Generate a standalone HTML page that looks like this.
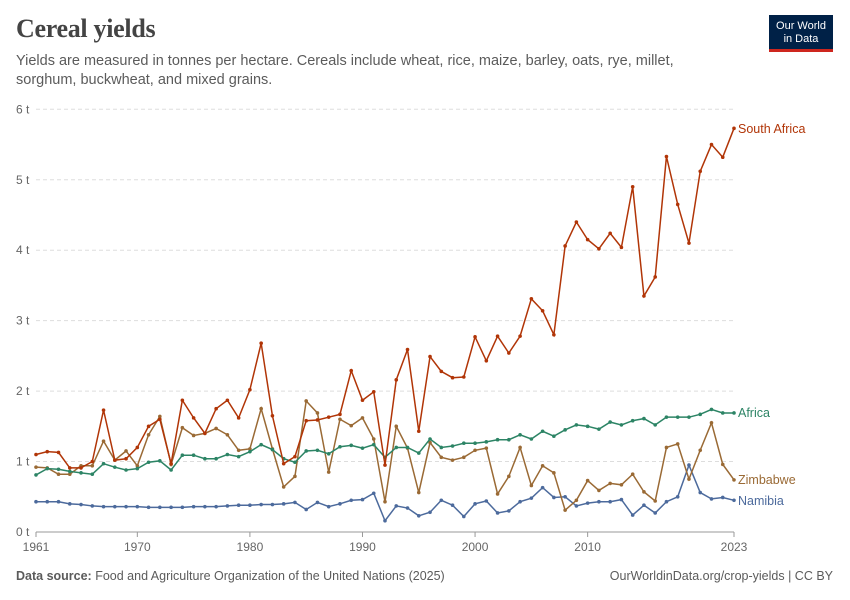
<!DOCTYPE html>
<html><head><meta charset="utf-8"><style>
body{margin:0;background:#fff;font-family:"Liberation Sans",sans-serif;}
#wrap{position:relative;width:850px;height:600px;overflow:hidden;}
h1{position:absolute;left:16px;top:14px;margin:0;font-family:"Liberation Serif",serif;font-size:26px;font-weight:bold;color:#444;letter-spacing:-0.3px}
.sub{position:absolute;left:16px;top:52px;width:700px;font-size:14.5px;line-height:19px;color:#5b5b5b}
.logo{position:absolute;left:769px;top:15px;width:64px;height:37px;background:#002147;color:#fff;font-size:11px;line-height:13px;text-align:center;padding-top:5px;box-sizing:border-box;border-bottom:3px solid #ce261e}
.foot{position:absolute;top:569px;font-size:12.5px;color:#5b5b5b}
</style></head><body><div id="wrap">
<h1>Cereal yields</h1>
<div class="sub">Yields are measured in tonnes per hectare. Cereals include wheat, rice, maize, barley, oats, rye, millet, sorghum, buckwheat, and mixed grains.</div>
<div class="logo">Our World<br>in Data</div>
<div class="foot" style="left:16px"><b>Data source:</b> Food and Agriculture Organization of the United Nations (2025)</div>
<div class="foot" style="right:17px">OurWorldinData.org/crop-yields | CC BY</div>
<svg id="chart" width="850" height="600" style="position:absolute;left:0;top:0"></svg>
</div>
<script>
const years=[];for(let y=1961;y<=2023;y++)years.push(y);
const southAfrica=[1.10,1.14,1.13,0.91,0.91,1.00,1.73,1.02,1.04,1.20,1.50,1.60,0.97,1.87,1.62,1.40,1.75,1.87,1.62,2.02,2.68,1.65,0.97,1.07,1.58,1.59,1.63,1.67,2.29,1.87,1.99,0.95,2.16,2.59,1.43,2.49,2.28,2.19,2.20,2.77,2.43,2.78,2.54,2.78,3.31,3.14,2.80,4.06,4.40,4.15,4.02,4.24,4.04,4.90,3.35,3.62,5.33,4.65,4.10,5.12,5.50,5.32,5.73];
const africa=[0.81,0.90,0.89,0.86,0.84,0.82,0.97,0.92,0.88,0.90,0.99,1.01,0.88,1.09,1.09,1.04,1.04,1.10,1.07,1.14,1.24,1.17,1.04,0.99,1.15,1.16,1.11,1.21,1.23,1.19,1.24,1.06,1.20,1.20,1.12,1.32,1.20,1.22,1.26,1.26,1.28,1.31,1.31,1.38,1.32,1.43,1.36,1.45,1.52,1.50,1.46,1.56,1.52,1.58,1.61,1.52,1.63,1.63,1.63,1.67,1.74,1.69,1.69];
const zimbabwe=[0.92,0.91,0.82,0.82,0.94,0.94,1.29,1.02,1.15,0.94,1.38,1.64,0.96,1.48,1.37,1.40,1.47,1.38,1.16,1.18,1.75,1.18,0.64,0.79,1.86,1.69,0.85,1.60,1.51,1.62,1.32,0.43,1.50,1.19,0.56,1.27,1.06,1.02,1.06,1.16,1.19,0.54,0.79,1.20,0.66,0.94,0.84,0.31,0.45,0.73,0.59,0.69,0.67,0.82,0.57,0.44,1.20,1.25,0.75,1.16,1.55,0.96,0.74];
const namibia=[0.43,0.43,0.43,0.40,0.39,0.37,0.36,0.36,0.36,0.36,0.35,0.35,0.35,0.35,0.36,0.36,0.36,0.37,0.38,0.38,0.39,0.39,0.40,0.42,0.32,0.42,0.36,0.40,0.45,0.46,0.55,0.16,0.37,0.34,0.23,0.28,0.45,0.38,0.22,0.40,0.44,0.27,0.30,0.43,0.48,0.63,0.49,0.50,0.37,0.41,0.43,0.43,0.46,0.24,0.38,0.27,0.43,0.50,0.95,0.56,0.47,0.49,0.45];
const yTicks=[0,1,2,3,4,5,6];
const xTicks=[1961,1970,1980,1990,2000,2010,2023];
const NS="http://www.w3.org/2000/svg",svg=document.getElementById('chart');
const x=y=>36+(y-1961)*(734-36)/62, yS=v=>532-v*70.45;
function mk(t,a,p){const e=document.createElementNS(NS,t);for(const k in a)e.setAttribute(k,a[k]);(p||svg).appendChild(e);return e;}
yTicks.forEach(t=>{
 const l=mk('line',{x1:36,x2:734,y1:yS(t),y2:yS(t),stroke:'#ddd','stroke-dasharray':t?'4,3':'',});
 if(!t)l.setAttribute('stroke','#999');
 
 
 const tx=mk('text',{x:16,y:yS(t)+4,'font-size':12,fill:'#666','font-family':'Liberation Sans'});tx.textContent=t+' t';
 
 
});
xTicks.forEach(t=>{
 mk('line',{x1:x(t),x2:x(t),y1:532,y2:537,stroke:'#999'});
 const tx=mk('text',{x:x(t),y:551,'font-size':12,fill:'#666','text-anchor':'middle','font-family':'Liberation Sans'});tx.textContent=t;
 
 
});
const series=[[namibia,'#4c6a9c','Namibia','namibia'],[zimbabwe,'#9a6a35','Zimbabwe','zimbabwe'],[africa,'#2c8465','Africa','africa'],[southAfrica,'#b13507','South Africa','south-africa']];
const lblY={namibia:505,zimbabwe:484,africa:417,'south-africa':133};
series.forEach(([d,c,n,k])=>{
 const g=mk('g',{});
 
 
 const p=mk('polyline',{points:d.map((v,i)=>x(years[i])+','+yS(v)).join(' '),fill:'none',stroke:c,'stroke-width':1.5},g);
 
 
 d.forEach((v,i)=>{const m=mk('circle',{cx:x(years[i]),cy:yS(v),r:1.8,fill:c},g);
  
  });
 const t=mk('text',{x:738,y:lblY[k],'font-size':12.5,fill:c,'font-family':'Liberation Sans'});t.textContent=n;
 
 
});
</script></body></html>
